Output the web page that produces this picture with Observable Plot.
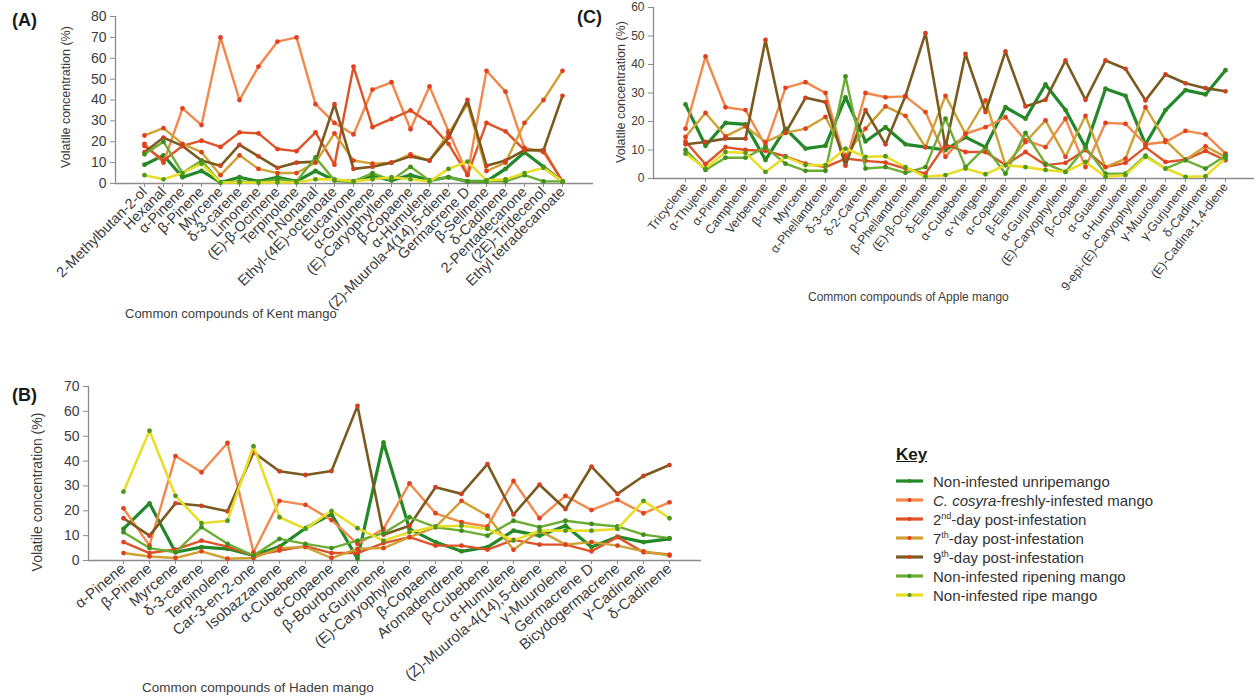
<!DOCTYPE html>
<html>
<head>
<meta charset="utf-8">
<script src="https://cdn.jsdelivr.net/npm/d3@7"></script>
<script src="https://cdn.jsdelivr.net/npm/@observablehq/plot@0.6"></script>
<style>
  html, body { margin: 0; padding: 0; background: #fff; }
  #page { position: relative; width: 1256px; height: 700px; overflow: hidden;
          font-family: "Liberation Sans", Arial, sans-serif; color: #3c3c3c; }
  .abs { position: absolute; white-space: nowrap; line-height: 1; }
  .panel-tag { font-weight: bold; font-size: 18px; color: #1a1a1a; }
  .ytitle { transform: translate(-50%, -50%) rotate(-90deg); }
  .xtitle { transform: translateY(-50%); }
  .key-row { position: absolute; left: 896px; height: 18px; display: flex; align-items: center; font-size: 15px; color: #333; }
  .key-row svg { margin-right: 10px; }
  sup { font-size: 9px; vertical-align: 6px; line-height: 0; }
</style>
</head>
<body>
<div id="page"></div>
<script>
// ---- series (treatments) ----
const seriesNames = [
  "Non-infested unripemango",
  "C. cosyra-freshly-infested mango",
  "2nd-day post-infestation",
  "7th-day post-infestation",
  "9th-day post-infestation",
  "Non-infested ripening mango",
  "Non-infested ripe mango"
];
const seriesColors = ["#22882a", "#f2884a", "#dc5428", "#cfa034", "#7b5a20", "#6cae34", "#e8de2a"];
const dotColors    = ["#2f8a1e", "#e2401e", "#e2401e", "#e2401e", "#d2401e", "#3f8e1e", "#4f9a1e"];
const lineWidths   = [3.2, 2.4, 2.4, 2.4, 2.6, 2.4, 2.6];

// ---- (A) Kent mango ----
const kentCompounds = ["2-Methylbutan-2-ol", "Hexanal", "α-Pinene", "β-Pinene", "Myrcene", "δ-3-carene",
  "Limonene", "(E)-β-Ocimene", "Terpinolene", "n-Nonanal", "Ethyl-(4E)-octenoate", "Eucarvone",
  "α-Gurjunene", "(E)-Caryophyllene", "β-Copaene", "α-Humulene", "(Z)-Muurola-4(14),5-diene",
  "Germacrene D", "β-Selinene", "δ-Cadinene", "2-Pentadecanone", "(2E)-Tridecenol", "Ethyl tetradecanoate"];
const kentUnripe    = [9, 13.5, 3, 6, 0.5, 3, 1, 3, 1, 6, 1.5, 1, 3.5, 1.5, 4, 1.5, 3, 1, 1, 7, 15, 8, 1];
const kentFresh     = [19, 10, 36, 28, 70, 40, 56, 68, 70, 38, 29, 23.5, 45, 48.5, 26, 46.5, 25, 4.5, 54, 44, 17, 15, 1];
const kentDay2      = [18, 11, 18, 20.5, 17.5, 24.5, 24, 16.5, 15.5, 24.5, 9, 56, 27, 31, 35, 29, 19, 4, 29, 25, 16, 16, 1];
const kentDay7      = [23, 26.5, 19, 15, 4, 13.5, 7, 5, 5, 10, 24, 11, 9.5, 10, 14, 11, 24, 38, 6, 10, 29, 40, 54];
const kentDay9      = [15, 22, 18, 11, 8.5, 18.5, 13, 7.5, 10, 10.5, 38, 7, 8, 10, 13, 11, 22, 40, 8.5, 11, 16, 16, 42];
const kentRipening  = [14, 20, 5, 11, 0.5, 1, 0.5, 2, 1, 12.5, 1.5, 1, 5, 1.5, 8, 1.5, 3, 1, 1, 1, 4, 1, 1];
const kentRipe      = [4, 2, 5, 9.5, 0.5, 0.5, 0.5, 0.5, 0.5, 2, 2, 1, 2, 3, 2, 1, 7, 10.5, 1.5, 2, 5, 7.5, 1];

// ---- (C) Apple mango ----
const appleCompounds = ["Tricyclene", "α-Thujene", "α-Pinene", "Camphene", "Verbenene", "β-Pinene", "Myrcene",
  "α-Phellandrene", "δ-3-carene", "δ-2-Carene", "p-Cymene", "β-Phellandrene", "(E)-β-Ocimene", "δ-Elemene",
  "α-Cubebene", "α-Ylangene", "α-Copaene", "β-Elemene", "α-Gurjunene", "(E)-Caryophyllene", "β-Copaene",
  "α-Guaiene", "α-Humulene", "9-epi-(E)-Caryophyllene", "γ-Muurolene", "γ-Gurjunene", "δ-Cadinene",
  "(E)-Cadina-1,4-diene"];
const appleUnripe   = [26, 11.5, 19.5, 19, 6.5, 17.5, 10.5, 11.5, 28.5, 13, 18, 12, 11, 10, 14.5, 11, 25, 21, 33, 24, 11, 31.5, 29, 12, 24, 31, 29.5, 38];
const appleFresh    = [17.5, 42.8, 25, 24, 11.5, 31.8, 33.8, 30, 5.5, 30, 28.5, 28.8, 23.3, 7.6, 15.7, 18, 21.5, 13.4, 11, 21, 4, 19.5, 19.2, 12, 12.8, 16.7, 15.5, 8.7];
const appleDay2     = [13, 5, 11, 10, 9.7, 7.8, 5.2, 4, 7, 6.2, 5.6, 3.5, 1.7, 12, 9.3, 9.3, 4.7, 9.3, 4.7, 5.5, 10, 4, 5.5, 11, 5.8, 6.6, 9.7, 6.4];
const appleDay7     = [14.6, 23, 14.8, 18.3, 12.8, 16, 17.5, 21.6, 8, 17.5, 25.3, 22, 11, 29, 15.7, 27.4, 4.7, 12.8, 20.4, 7.6, 22, 4, 7, 25, 13.4, 6.6, 11.3, 7.6];
const appleDay9     = [12, 12.8, 14, 14, 48.6, 16, 28.3, 26.8, 4.5, 24, 12, 29, 51, 11, 43.7, 23.3, 44.6, 25.3, 27.6, 41.4, 27.6, 41.4, 38.5, 27.4, 36.5, 33.4, 31.7, 30.6];
const appleRipening = [10, 3, 7.3, 7.3, 11, 5.2, 2.7, 2.7, 35.8, 3.5, 4, 2, 4, 21, 4, 11, 1.7, 16, 5.2, 2.3, 11, 1.7, 1.7, 8, 3.5, 6.4, 3.5, 8];
const appleRipe     = [8.7, 3.5, 9.3, 9, 2.3, 7.6, 4.7, 4.7, 10.5, 7.6, 7.8, 4, 0.6, 1.2, 3.5, 1.5, 4.7, 4, 3, 2.3, 5.8, 0.6, 1.2, 7.6, 3.5, 0.6, 0.8, 7];

// ---- (B) Haden mango ----
const hadenCompounds = ["α-Pinene", "β-Pinene", "Myrcene", "δ-3-carene", "Terpinolene", "Car-3-en-2-one",
  "Isobazzanene", "α-Cubebene", "α-Copaene", "β-Bourbonene", "α-Gurjunene", "(E)-Caryophyllene", "β-Copaene",
  "Aromadendrene", "β-Cubebene", "α-Humulene", "(Z)-Muurola-4(14),5-diene", "γ-Muurolene", "Germacrene D",
  "Bicydogermacrene", "γ-Cadinene", "δ-Cadinene"];
const hadenUnripe   = [12.7, 23, 3.3, 5.4, 4.7, 2, 5.6, 13, 18.7, 0.7, 47.5, 12.7, 7.4, 3.7, 5.4, 12, 10, 14, 5.4, 9.6, 7.4, 8.7];
const hadenFresh    = [21, 6, 42, 35.5, 47.3, 3.3, 24, 22.4, 16.3, 6.7, 12.7, 31, 19, 15.4, 13.7, 32, 17, 26, 20.3, 24.4, 19, 23.4];
const hadenDay2     = [7.4, 3, 4.4, 8, 5.6, 2, 4, 5.8, 3, 3, 7, 9.4, 6, 6, 4.4, 8.3, 6.4, 6.4, 3.7, 9.4, 3.3, 2.4];
const hadenDay7     = [3, 1.6, 1, 3.7, 0.7, 1, 5, 5.4, 1, 4.7, 5, 9.4, 13.4, 24, 18, 4.3, 12, 6.4, 7.4, 6, 3.7, 2];
const hadenDay9     = [17, 10, 23, 22, 19.8, 43.5, 35.9, 34.4, 36, 62.2, 10.4, 14, 29.5, 26.8, 38.8, 18.5, 30.5, 20.7, 37.8, 26.8, 34, 38.4];
const hadenRipening = [11.4, 5, 3.3, 13.4, 6.7, 2, 8.7, 6.7, 5, 8, 11, 17.4, 13.4, 12, 10, 16, 13.4, 16, 14.7, 13.7, 10.4, 9];
const hadenRipe     = [27.7, 52.2, 26, 15, 16, 46, 17.4, 12.7, 20, 13, 8, 11.4, 13.7, 14, 12.7, 8, 12, 12, 12, 12.7, 24, 17];

const FONT = '"Liberation Sans", Arial, sans-serif';
const page = document.getElementById("page");

// Long-format rows for one series
function rows(compounds, values) {
  return compounds.map((c, i) => ({compound: c, value: values[i]}));
}

// One line chart panel: seven treatment lines over the compounds of a cultivar
function panel({compounds, series, yMax, width, height, margin, xRange, xFont, xRotate, yFont}) {
  const marks = [
    Plot.ruleY([0], {stroke: "#8c8c8c", strokeWidth: 1.3}),
    Plot.frame({anchor: "left", stroke: "#8c8c8c", strokeWidth: 1.3}),
    Plot.axisY({ticks: d3.range(0, yMax + 1, 10), tickSize: 5, tickPadding: 4, fontSize: yFont,
                label: null, stroke: "#8c8c8c", fill: "#3c3c3c"}),
    Plot.axisX({tickRotate: xRotate, tickSize: 4, tickPadding: 2, fontSize: xFont,
                label: null, stroke: "#8c8c8c", fill: "#3c3c3c"})
  ];
  series.forEach((vals, k) => {
    const data = rows(compounds, vals);
    marks.push(Plot.line(data, {x: "compound", y: "value", stroke: seriesColors[k],
                                strokeWidth: lineWidths[k], strokeLinejoin: "round"}));
    marks.push(Plot.dot(data, {x: "compound", y: "value", r: 2.4, fill: dotColors[k]}));
  });
  return Plot.plot({
    width, height,
    marginLeft: margin[0], marginRight: margin[1], marginTop: margin[2], marginBottom: margin[3],
    style: {fontFamily: FONT, background: "transparent", overflow: "visible", color: "#3c3c3c"},
    x: {type: "point", domain: compounds, range: xRange},
    y: {domain: [0, yMax]},
    marks
  });
}

function place(node, left, top) {
  const wrap = document.createElement("div");
  wrap.className = "abs";
  wrap.style.left = left + "px";
  wrap.style.top = top + "px";
  wrap.appendChild(node);
  page.appendChild(wrap);
}

function text(html, cls, left, top, extra = {}) {
  const d = document.createElement("div");
  d.className = "abs " + cls;
  d.innerHTML = html;
  d.style.left = left + "px";
  d.style.top = top + "px";
  Object.assign(d.style, extra);
  page.appendChild(d);
}

// (A) Kent
place(panel({
  compounds: kentCompounds,
  series: [kentUnripe, kentFresh, kentDay2, kentDay7, kentDay9, kentRipening, kentRipe],
  yMax: 80, width: 600, height: 335, margin: [115, 7, 16, 152], xRange: [124, 582],
  xFont: 14.5, xRotate: -45, yFont: 14
}), 0, 0);

// (C) Apple
place(panel({
  compounds: appleCompounds,
  series: [appleUnripe, appleFresh, appleDay2, appleDay7, appleDay9, appleRipening, appleRipe],
  yMax: 60, width: 656, height: 310, margin: [53, 2, 7, 132], xRange: [65, 645],
  xFont: 12.5, xRotate: -52, yFont: 12
}), 600, 0);

// (B) Haden
place(panel({
  compounds: hadenCompounds,
  series: [hadenUnripe, hadenFresh, hadenDay2, hadenDay7, hadenDay9, hadenRipening, hadenRipe],
  yMax: 70, width: 860, height: 360, margin: [88, 159, 46, 140], xRange: [106.7, 686],
  xFont: 15, xRotate: -40, yFont: 14
}), 0, 340);

// Panel tags and axis titles
text("(A)", "panel-tag", 12, 11);
text("(C)", "panel-tag", 577, 8);
text("(B)", "panel-tag", 12, 386);
text("Volatile concentration (%)", "ytitle", 66, 97, {fontSize: "12.5px"});
text("Volatile concentration (%)", "ytitle", 621, 92, {fontSize: "12.5px"});
text("Volatile concentration (%)", "ytitle", 37, 492, {fontSize: "14px"});
text("Common compounds of Kent mango", "xtitle", 125, 313, {fontSize: "13px"});
text("Common compounds of Apple mango", "xtitle", 808, 297, {fontSize: "12px"});
text("Common compounds of Haden mango", "xtitle", 142, 688, {fontSize: "13.5px"});

// Key
text("Key", "", 896, 446, {fontSize: "17px", fontWeight: "bold", textDecoration: "underline", color: "#1a1a1a"});
const keyLabels = [
  "Non-infested unripemango",
  "<i>C. cosyra</i>-freshly-infested mango",
  "2<sup>nd</sup>-day post-infestation",
  "7<sup>th</sup>-day post-infestation",
  "9<sup>th</sup>-day post-infestation",
  "Non-infested ripening mango",
  "Non-infested ripe mango"
];
const keyRows = [481, 500, 519, 538, 557, 576, 595];
keyLabels.forEach((lab, k) => {
  const row = document.createElement("div");
  row.className = "key-row";
  row.style.top = (keyRows[k] - 9) + "px";
  row.innerHTML = `<svg width="27" height="10"><line x1="0" y1="5" x2="27" y2="5" stroke="${seriesColors[k]}" stroke-width="3.2"/>` +
                  `<circle cx="13.5" cy="5" r="2" fill="${dotColors[k]}"/></svg><span>${lab}</span>`;
  page.appendChild(row);
});
</script>
</body>
</html>
